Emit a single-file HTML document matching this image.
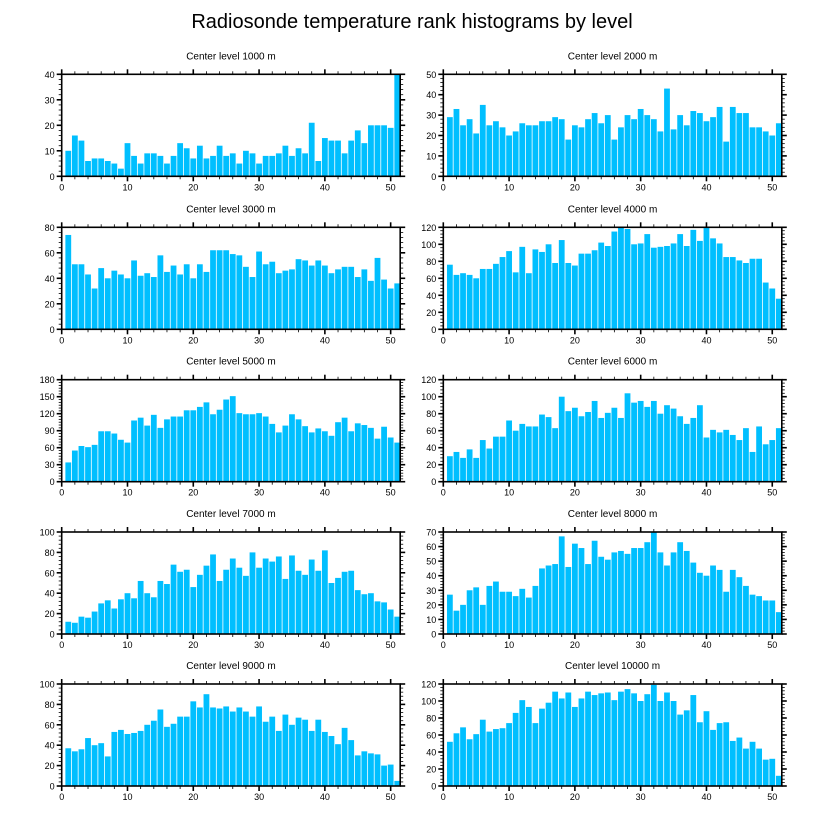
<!DOCTYPE html>
<html><head><meta charset="utf-8">
<style>
html,body{margin:0;padding:0;background:#fff;}
svg{display:block;font-family:"Liberation Sans",Arial,sans-serif;}
</style></head>
<body>
<svg id="chart" width="824" height="824" viewBox="0 0 824 824" xmlns="http://www.w3.org/2000/svg">
<rect x="0" y="0" width="824" height="824" fill="#fff"/>
<text x="412" y="28" font-size="20" text-anchor="middle" fill="#000">Radiosonde temperature rank histograms by level</text>
</svg>
<script>
const levels = [1000,2000,3000,4000,5000,6000,7000,8000,9000,10000];
const yMaxes = [40,50,80,120,180,120,100,70,100,120];
const ySteps = [10,10,20,20,30,20,20,10,20,20];
const xTicks = [0,10,20,30,40,50];
const counts1000 = [10,16,14,6,7,7,6,5,3,13,8,5,9,9,8,5,8,13,11,7,12,7,8,12,8,9,5,10,9,5,8,8,9,12,8,11,9,21,6,15,14,14,9,14,18,13,20,20,20,19,40];
const counts2000 = [29,33,25,28,21,35,25,27,24,20,22,26,25,25,27,27,29,28,18,25,24,28,31,26,30,18,24,30,28,33,30,28,22,43,23,30,25,32,31,27,29,34,17,34,31,31,24,24,22,20,26];
const counts3000 = [74,51,51,43,32,48,40,46,43,40,54,42,44,41,58,45,50,43,51,40,51,45,62,62,62,59,58,49,41,61,51,53,44,46,47,55,54,50,54,50,44,47,49,49,41,47,38,56,39,32,36];
const counts4000 = [76,64,66,64,60,71,71,77,85,92,67,97,66,94,91,100,78,105,78,75,89,89,93,102,98,115,120,118,100,101,112,96,97,98,101,112,98,117,104,120,107,101,85,85,81,78,83,83,55,48,36];
const counts5000 = [34,55,63,61,65,89,89,85,74,69,108,113,99,118,95,110,115,115,126,126,132,140,119,127,145,151,121,119,119,121,115,102,87,99,119,110,98,87,94,89,81,105,113,89,103,100,95,76,97,78,69];
const counts6000 = [30,35,28,38,28,49,39,53,53,72,60,68,65,65,79,76,63,100,83,87,77,82,95,75,81,87,75,104,93,95,88,95,80,90,86,77,68,75,90,52,61,58,61,55,49,63,35,65,44,49,63];
const counts7000 = [12,11,17,16,22,30,33,25,34,40,35,52,40,36,52,49,68,61,63,46,58,67,78,52,63,74,65,57,80,65,74,71,76,54,77,62,58,73,62,82,50,55,61,62,43,39,40,32,31,24,17];
const counts8000 = [27,16,20,30,32,20,33,36,29,29,26,31,25,33,45,47,48,67,46,62,59,48,64,53,51,56,57,55,59,59,63,70,56,47,56,63,57,49,42,40,47,44,29,44,39,33,27,26,23,23,15];
const counts9000 = [37,34,36,47,40,42,29,53,55,51,52,54,60,64,75,58,61,68,68,83,77,90,77,76,78,73,77,73,68,78,63,68,54,70,60,67,65,54,65,53,49,41,57,45,30,34,32,31,20,21,5];
const counts10000 = [52,62,69,55,61,78,64,67,68,74,86,101,93,74,91,98,111,103,110,93,103,111,107,109,110,101,111,114,109,100,108,119,100,110,100,84,89,107,75,88,66,74,75,53,57,44,52,44,31,32,12];
const allCounts = [counts1000,counts2000,counts3000,counts4000,counts5000,counts6000,counts7000,counts8000,counts9000,counts10000];

const NS = "http://www.w3.org/2000/svg";
const svg = document.getElementById('chart');
function mk(tag, attrs, parent){
  const e = document.createElementNS(NS, tag);
  for (const k in attrs) e.setAttribute(k, attrs[k]);
  (parent||svg).appendChild(e);
  return e;
}
const colX = [61.7, 443.3];
const rowY = [74.3, 227.3, 379.7, 532, 684];
const W = 338.5, H = 102, XMAX = 51.45;

for (let p = 0; p < 10; p++) {
  const x0 = colX[p % 2], y0 = rowY[Math.floor(p / 2)];
  const ymax = yMaxes[p], ystep = ySteps[p], data = allCounts[p];
  const sx = v => x0 + v / XMAX * W;
  const sy = v => y0 + H - v / ymax * H;
  const g = mk('g', {});
  
  

  const t = mk('text', {x: x0 + W/2, y: y0 - 15, 'font-size': 10, 'text-anchor': 'middle', fill: '#000'}, g);
  
  
  t.textContent = 'Center level ' + levels[p] + ' m';

  data.forEach((v, i) => {
    const c = i + 1;
    const r = mk('rect', {x: sx(c - 0.44), y: sy(v), width: sx(c + 0.44) - sx(c - 0.44), height: sy(0) - sy(v), fill: '#00bfff'}, g);
    
    
  });

  const box = mk('rect', {x: x0, y: y0, width: W, height: H, fill: 'none', stroke: '#000', 'stroke-width': 1.6}, g);
  
  

  for (let v = 0; v <= 51; v += 2) {
    const major = v % 10 === 0;
    const len = major ? 5 : 3;
    mk('line', {x1: sx(v), x2: sx(v), y1: y0 + H, y2: y0 + H + len, stroke: '#000', 'stroke-width': major ? 1.6 : 0.8}, g);
    mk('line', {x1: sx(v), x2: sx(v), y1: y0, y2: y0 - len, stroke: '#000', 'stroke-width': major ? 1.6 : 0.8}, g);
  }
  xTicks.forEach(v => {
    const tl = mk('text', {x: sx(v), y: y0 + H + 14, 'font-size': 9, 'text-anchor': 'middle', fill: '#000'}, g);
    
    
    tl.textContent = v;
  });
  const nMinor = ystep === 30 ? 6 : 5;
  const mstep = ystep / nMinor;
  for (let k = 0; k * mstep <= ymax + 1e-6; k++) {
    const v = k * mstep;
    const major = k % nMinor === 0;
    const len = major ? 5 : 3;
    mk('line', {x1: x0, x2: x0 - len, y1: sy(v), y2: sy(v), stroke: '#000', 'stroke-width': major ? 1.6 : 0.8}, g);
    mk('line', {x1: x0 + W, x2: x0 + W + len, y1: sy(v), y2: sy(v), stroke: '#000', 'stroke-width': major ? 1.6 : 0.8}, g);
  }
  for (let v = 0; v <= ymax; v += ystep) {
    const yl = mk('text', {x: x0 - 7, y: sy(v) + 3.5, 'font-size': 9, 'text-anchor': 'end', fill: '#000'}, g);
    
    
    yl.textContent = v;
  }
}
</script>
</body></html>
